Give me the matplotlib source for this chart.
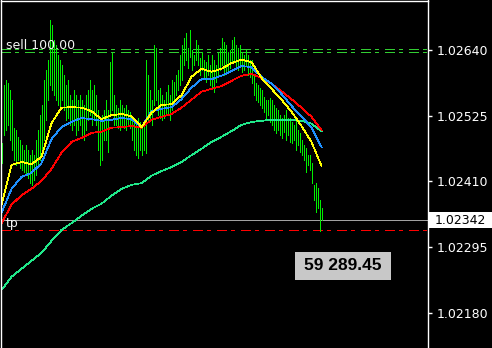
import matplotlib
matplotlib.use("Agg")
import matplotlib.pyplot as plt
from matplotlib.patches import Rectangle
from matplotlib.transforms import blended_transform_factory

# bar highs / lows, one bar per index
highs = [1.02477, 1.02579, 1.02588, 1.02582, 1.02570, 1.02553, 1.02504, 1.02500, 1.02488, 1.02483,
         1.02474, 1.02465, 1.02474, 1.02465, 1.02456, 1.02465, 1.02456, 1.02483, 1.02500, 1.02526,
         1.02544, 1.02588, 1.02605, 1.02623, 1.02693, 1.02684, 1.02658, 1.02649, 1.02631, 1.02623,
         1.02614, 1.02596, 1.02579, 1.02588, 1.02561, 1.02553, 1.02570, 1.02561, 1.02553, 1.02561,
         1.02553, 1.02544, 1.02561, 1.02570, 1.02588, 1.02570, 1.02579, 1.02561, 1.02535, 1.02518,
         1.02526, 1.02535, 1.02553, 1.02535, 1.02619, 1.02635, 1.02561, 1.02544, 1.02539, 1.02553,
         1.02544, 1.02539, 1.02544, 1.02535, 1.02532, 1.02521, 1.02518, 1.02518, 1.02521, 1.02514,
         1.02509, 1.02518, 1.02623, 1.02596, 1.02570, 1.02553, 1.02649, 1.02644, 1.02570, 1.02574,
         1.02561, 1.02553, 1.02567, 1.02579, 1.02561, 1.02588, 1.02584, 1.02596, 1.02605, 1.02631,
         1.02649, 1.02661, 1.02670, 1.02644, 1.02675, 1.02640, 1.02631, 1.02658, 1.02649, 1.02626,
         1.02637, 1.02623, 1.02619, 1.02631, 1.02614, 1.02631, 1.02623, 1.02614, 1.02635, 1.02644,
         1.02661, 1.02654, 1.02649, 1.02637, 1.02640, 1.02658, 1.02663, 1.02649, 1.02644, 1.02649,
         1.02637, 1.02631, 1.02640, 1.02631, 1.02623, 1.02623, 1.02596, 1.02582, 1.02579, 1.02574,
         1.02570, 1.02558, 1.02553, 1.02553, 1.02556, 1.02553, 1.02544, 1.02539, 1.02535, 1.02526,
         1.02521, 1.02526, 1.02535, 1.02521, 1.02521, 1.02514, 1.02509, 1.02518, 1.02500, 1.02495,
         1.02483, 1.02474, 1.02469, 1.02456, 1.02456, 1.02442, 1.02404, 1.02407, 1.02399, 1.02378,
         1.02364]
lows = [1.02442, 1.02491, 1.02500, 1.02509, 1.02483, 1.02465, 1.02448, 1.02439, 1.02448, 1.02434,
        1.02430, 1.02427, 1.02421, 1.02416, 1.02407, 1.02404, 1.02413, 1.02421, 1.02439, 1.02448,
        1.02465, 1.02483, 1.02518, 1.02553, 1.02579, 1.02570, 1.02561, 1.02553, 1.02544, 1.02535,
        1.02553, 1.02535, 1.02518, 1.02521, 1.02509, 1.02500, 1.02509, 1.02491, 1.02500, 1.02509,
        1.02491, 1.02483, 1.02500, 1.02518, 1.02526, 1.02509, 1.02521, 1.02509, 1.02465, 1.02439,
        1.02448, 1.02483, 1.02483, 1.02462, 1.02526, 1.02535, 1.02509, 1.02509, 1.02504, 1.02500,
        1.02509, 1.02504, 1.02500, 1.02509, 1.02504, 1.02483, 1.02465, 1.02456, 1.02451, 1.02465,
        1.02456, 1.02465, 1.02460, 1.02518, 1.02521, 1.02509, 1.02544, 1.02553, 1.02526, 1.02521,
        1.02518, 1.02521, 1.02526, 1.02526, 1.02518, 1.02535, 1.02553, 1.02561, 1.02570, 1.02579,
        1.02588, 1.02614, 1.02623, 1.02609, 1.02628, 1.02605, 1.02614, 1.02623, 1.02614, 1.02596,
        1.02605, 1.02591, 1.02584, 1.02596, 1.02579, 1.02574, 1.02567, 1.02584, 1.02596, 1.02605,
        1.02614, 1.02596, 1.02602, 1.02605, 1.02609, 1.02619, 1.02623, 1.02609, 1.02605, 1.02614,
        1.02602, 1.02605, 1.02614, 1.02596, 1.02593, 1.02582, 1.02561, 1.02553, 1.02549, 1.02544,
        1.02539, 1.02532, 1.02521, 1.02526, 1.02514, 1.02509, 1.02500, 1.02495, 1.02500, 1.02491,
        1.02486, 1.02497, 1.02483, 1.02491, 1.02479, 1.02477, 1.02483, 1.02465, 1.02474, 1.02462,
        1.02456, 1.02448, 1.02427, 1.02439, 1.02430, 1.02407, 1.02378, 1.02357, 1.02364, 1.02323,
        1.02342]

# moving averages, read every 5th bar
ma_idx = list(range(0, 161, 5))
ma_yellow = [1.02369, 1.02439, 1.02444, 1.02440, 1.02453, 1.02512, 1.02539, 1.02540, 1.02539, 1.02533,
             1.02519, 1.02526, 1.02528, 1.02524, 1.02505, 1.02530, 1.02544, 1.02545, 1.02561, 1.02593,
             1.02607, 1.02602, 1.02607, 1.02617, 1.02623, 1.02619, 1.02591, 1.02572, 1.02553, 1.02532,
             1.02507, 1.02479, 1.02437]
ma_blue = [1.02355, 1.02397, 1.02418, 1.02425, 1.02442, 1.02484, 1.02505, 1.02514, 1.02521, 1.02519,
           1.02516, 1.02518, 1.02521, 1.02519, 1.02505, 1.02533, 1.02537, 1.02540, 1.02554, 1.02574,
           1.02589, 1.02589, 1.02595, 1.02603, 1.02612, 1.02610, 1.02593, 1.02581, 1.02563, 1.02542,
           1.02524, 1.02504, 1.02470]
ma_red = [1.02337, 1.02369, 1.02386, 1.02397, 1.02411, 1.02432, 1.02460, 1.02479, 1.02486, 1.02495,
          1.02497, 1.02504, 1.02505, 1.02507, 1.02504, 1.02518, 1.02523, 1.02528, 1.02539, 1.02553,
          1.02567, 1.02572, 1.02577, 1.02586, 1.02595, 1.02598, 1.02591, 1.02581, 1.02568, 1.02554,
          1.02539, 1.02523, 1.02500]
ma_green = [1.02220, 1.02243, 1.02257, 1.02271, 1.02285, 1.02306, 1.02325, 1.02337, 1.02350, 1.02362,
            1.02371, 1.02385, 1.02397, 1.02404, 1.02407, 1.02420, 1.02428, 1.02435, 1.02444, 1.02456,
            1.02467, 1.02479, 1.02488, 1.02498, 1.02509, 1.02514, 1.02516, 1.02518, 1.02518, 1.02518,
            1.02516, 1.02511, 1.02498]

sell_levels = [1.02641, 1.02636]
tp_level = 1.02325
last_price = 1.02342
balance_text = "59 289.45"
yticks = [1.02180, 1.02295, 1.02410, 1.02525, 1.02640]

W, H = 492, 348
fig = plt.figure(figsize=(W / 100, H / 100), dpi=100, facecolor="black")
ax = fig.add_axes([0.5 / W, 0, 427.5 / W, 347.5 / H])
ax.set_facecolor("black")
# 2 px per bar
ax.set_xlim(-0.5, 213.25)
ax.set_ylim(1.021185, 1.027266)

LW = 0.72  # one pixel
dashdot = (0, (10, 5, 3, 6))
for lvl in sell_levels:
    ax.axhline(lvl, color="#32cd32", lw=LW, ls=dashdot, antialiased=False)
ax.axhline(tp_level, color="#ff0000", lw=LW, ls=dashdot, antialiased=False)
ax.axhline(last_price, color="#a0a0a0", lw=LW, antialiased=False)

ax.vlines(range(len(highs)), lows, highs, colors="#00ee00", lw=LW, antialiased=False)

ma_lw = 0.55
ax.plot(ma_idx, ma_green, color="#20e88a", lw=ma_lw, antialiased=False)
ax.plot(ma_idx, ma_red, color="#ff0000", lw=ma_lw, antialiased=False)
ax.plot(ma_idx, ma_blue, color="#1e90ff", lw=ma_lw, antialiased=False)
ax.plot(ma_idx, ma_yellow, color="#ffff00", lw=ma_lw, antialiased=False)

ax.text(2, sell_levels[0], "sell 100.00", color="#f4f4f4", fontsize=9,
        ha="left", va="baseline")
ax.annotate("tp", xy=(2, tp_level), xytext=(0, 2.5), textcoords="offset points",
            color="#f4f4f4", fontsize=9, ha="left", va="baseline")

# axes / ticks
ax.spines["bottom"].set_visible(False)
for s in ["left", "top", "right"]:
    ax.spines[s].set_color("white")
    ax.spines[s].set_linewidth(1)
ax.set_xticks([])
ax.yaxis.tick_right()
ax.set_yticks(yticks)
ax.set_yticklabels([f"{t:.5f}" for t in yticks])
ax.tick_params(axis="y", colors="white", length=3, width=1, pad=3, labelsize=9)

# current price label on the scale
tr = blended_transform_factory(fig.transFigure, ax.transData)
fig.add_artist(Rectangle((429 / W, last_price - 0.00014), 63 / W, 0.00028, transform=tr,
                         facecolor="white", edgecolor="none", clip_on=False))
fig.text(435 / W, last_price, f"{last_price:.5f}", transform=tr, color="black",
         fontsize=9, ha="left", va="center")

# balance box
fig.add_artist(Rectangle((295 / W, 68 / H), 96 / W, 28 / H, transform=fig.transFigure,
                         facecolor="#c8c8c8", edgecolor="none"))
fig.text(343 / W, 82 / H, balance_text, color="black", fontsize=12.5, fontweight="bold",
         family="Liberation Sans", ha="center", va="center")

fig.savefig("out.png", dpi=100, facecolor="black")
